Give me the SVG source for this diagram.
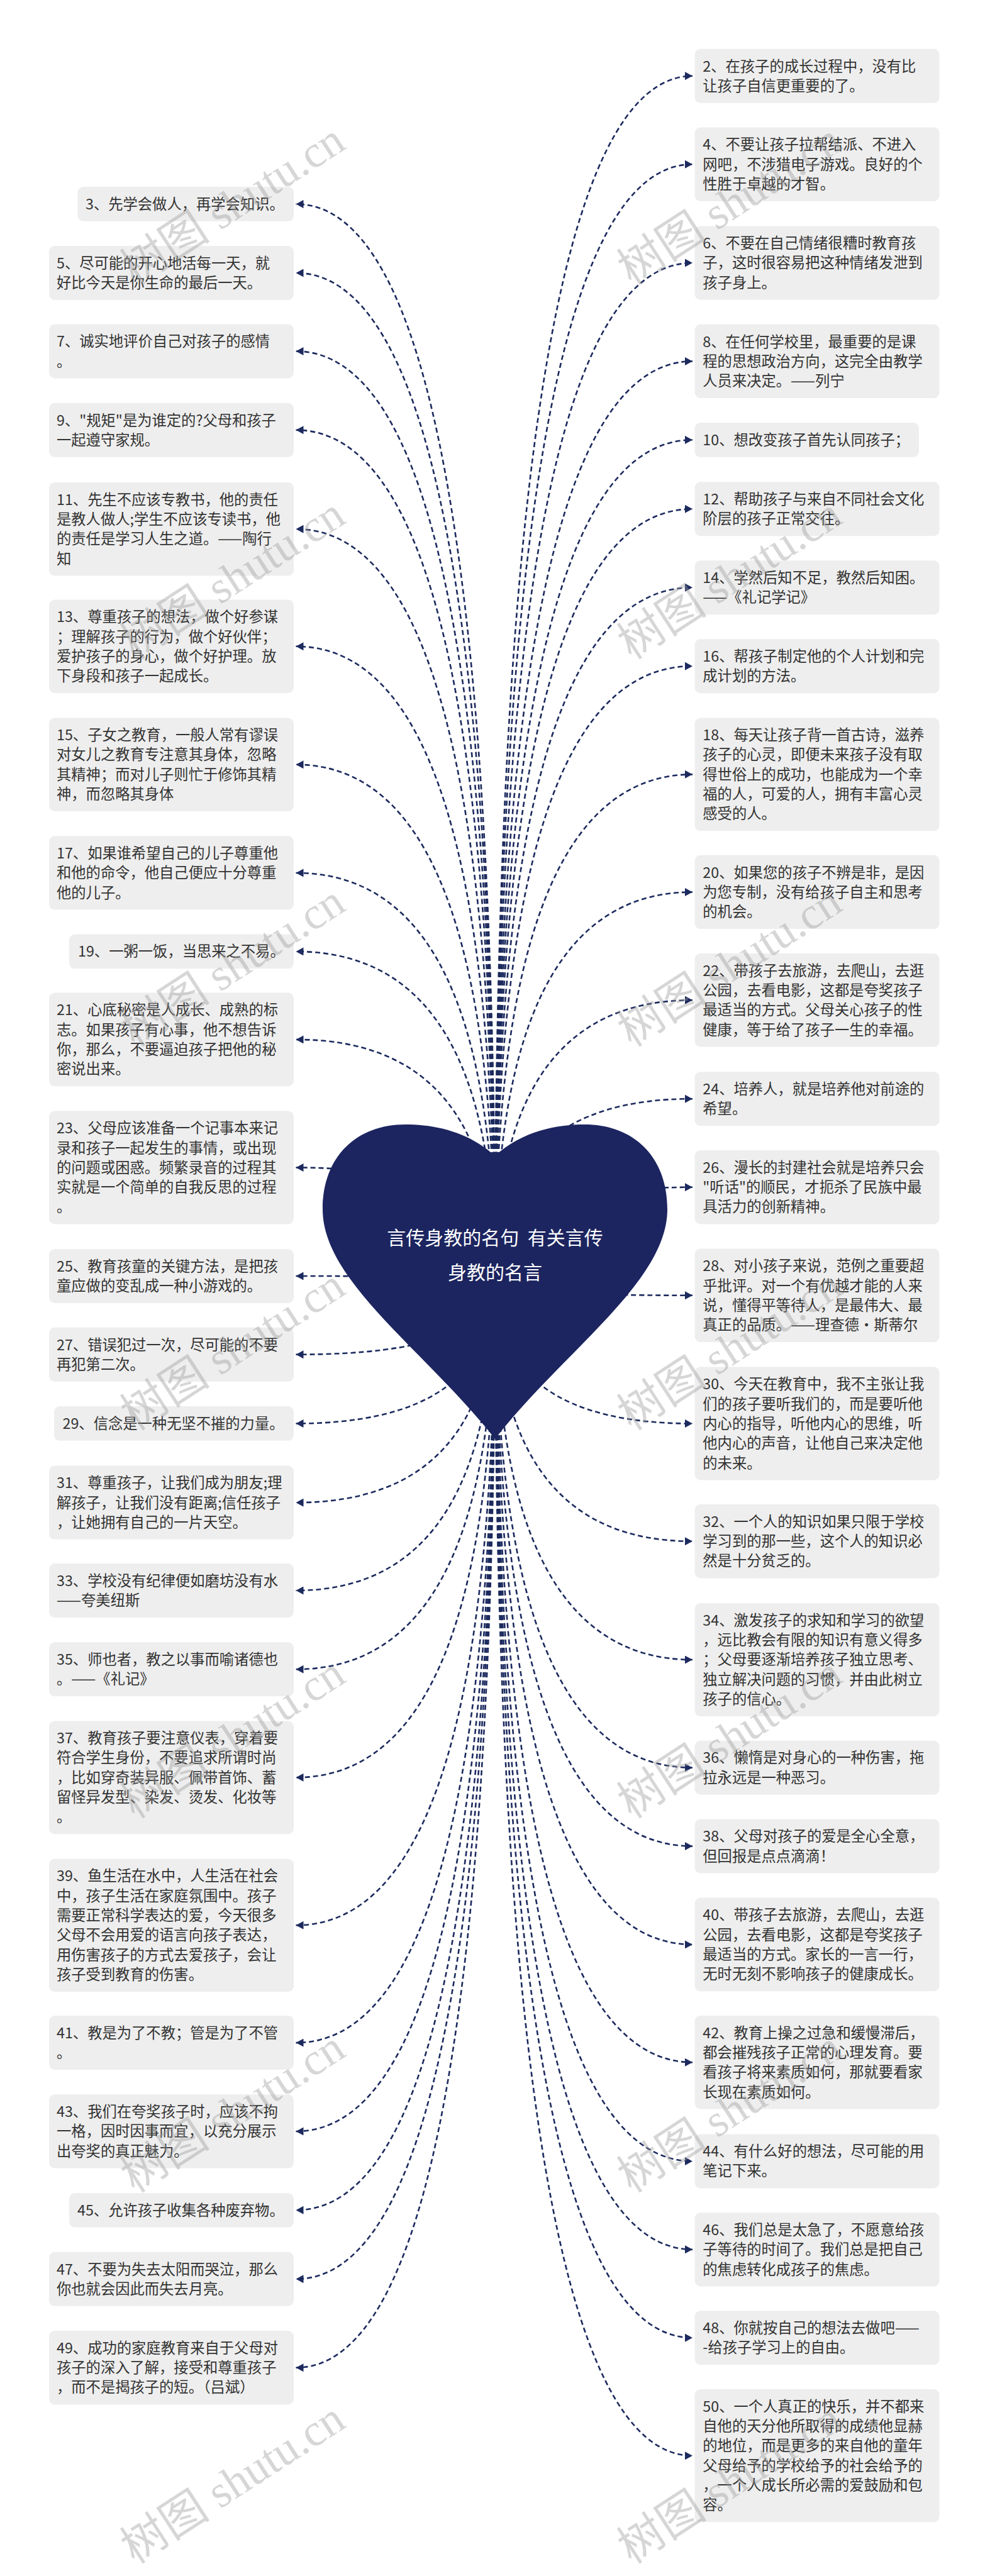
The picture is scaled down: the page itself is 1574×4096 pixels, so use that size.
<svg xmlns="http://www.w3.org/2000/svg" width="1574" height="4096" viewBox="0 0 1574 4096">
<style>
.box{fill:#eeeeee}
.t{font-family:"Noto Sans CJK SC","Liberation Sans",sans-serif;font-size:23.3px;fill:#333333}
.c{fill:none;stroke:#1c2a5e;stroke-width:2.6;stroke-dasharray:8 5;marker-end:url(#ah)}
.wm{font-family:"Liberation Serif","Noto Sans CJK SC",serif;font-size:72px;fill:#9a9a9a;opacity:.4}
.rt{font-family:"Noto Sans CJK SC","Liberation Sans",sans-serif;font-size:30px;fill:#ffffff}
</style>
<defs>
<marker id="ah" markerUnits="userSpaceOnUse" markerWidth="13" markerHeight="13" refX="12" refY="6.5" orient="auto">
<path d="M0,0 L12,6.5 L0,13 z" fill="#1c2a5e"/>
</marker>
</defs>
<rect width="1574" height="4096" fill="#ffffff"/>
<g id="connectors">
<path class="c" d="M787 2035 Q787 324.45 470.5 324.45"/>
<path class="c" d="M787 2035 Q787 434 470.5 434"/>
<path class="c" d="M787 2035 Q787 558.5 470.5 558.5"/>
<path class="c" d="M787 2035 Q787 683.8 470.5 683.8"/>
<path class="c" d="M787 2035 Q787 841.2 470.5 841.2"/>
<path class="c" d="M787 2035 Q787 1027.8 470.5 1027.8"/>
<path class="c" d="M787 2035 Q787 1215.7 470.5 1215.7"/>
<path class="c" d="M787 2035 Q787 1387.95 470.5 1387.95"/>
<path class="c" d="M787 2035 Q787 1512.95 470.5 1512.95"/>
<path class="c" d="M787 2035 Q787 1652.9 470.5 1652.9"/>
<path class="c" d="M787 2035 Q787 1856.45 470.5 1856.45"/>
<path class="c" d="M787 2035 Q787 2029 470.5 2029"/>
<path class="c" d="M787 2035 Q787 2153.8 470.5 2153.8"/>
<path class="c" d="M787 2035 Q787 2263.45 470.5 2263.45"/>
<path class="c" d="M787 2035 Q787 2389.15 470.5 2389.15"/>
<path class="c" d="M787 2035 Q787 2529 470.5 2529"/>
<path class="c" d="M787 2035 Q787 2654.3 470.5 2654.3"/>
<path class="c" d="M787 2035 Q787 2826.35 470.5 2826.35"/>
<path class="c" d="M787 2035 Q787 3061.3 470.5 3061.3"/>
<path class="c" d="M787 2035 Q787 3248.1 470.5 3248.1"/>
<path class="c" d="M787 2035 Q787 3388.95 470.5 3388.95"/>
<path class="c" d="M787 2035 Q787 3514.25 470.5 3514.25"/>
<path class="c" d="M787 2035 Q787 3623.8 470.5 3623.8"/>
<path class="c" d="M787 2035 Q787 3764.75 470.5 3764.75"/>
<path class="c" d="M787 2035 Q787 120.8 1101 120.8"/>
<path class="c" d="M787 2035 Q787 261.25 1101 261.25"/>
<path class="c" d="M787 2035 Q787 418.05 1101 418.05"/>
<path class="c" d="M787 2035 Q787 574.45 1101 574.45"/>
<path class="c" d="M787 2035 Q787 699.45 1101 699.45"/>
<path class="c" d="M787 2035 Q787 809.3 1101 809.3"/>
<path class="c" d="M787 2035 Q787 934.2 1101 934.2"/>
<path class="c" d="M787 2035 Q787 1059.2 1101 1059.2"/>
<path class="c" d="M787 2035 Q787 1231.35 1101 1231.35"/>
<path class="c" d="M787 2035 Q787 1418.45 1101 1418.45"/>
<path class="c" d="M787 2035 Q787 1590.3 1101 1590.3"/>
<path class="c" d="M787 2035 Q787 1747.2 1101 1747.2"/>
<path class="c" d="M787 2035 Q787 1887.75 1101 1887.75"/>
<path class="c" d="M787 2035 Q787 2059.8 1101 2059.8"/>
<path class="c" d="M787 2035 Q787 2263.55 1101 2263.55"/>
<path class="c" d="M787 2035 Q787 2450.75 1101 2450.75"/>
<path class="c" d="M787 2035 Q787 2639.05 1101 2639.05"/>
<path class="c" d="M787 2035 Q787 2810.7 1101 2810.7"/>
<path class="c" d="M787 2035 Q787 2935.6 1101 2935.6"/>
<path class="c" d="M787 2035 Q787 3091.9 1101 3091.9"/>
<path class="c" d="M787 2035 Q787 3279.2 1101 3279.2"/>
<path class="c" d="M787 2035 Q787 3436.4 1101 3436.4"/>
<path class="c" d="M787 2035 Q787 3576.85 1101 3576.85"/>
<path class="c" d="M787 2035 Q787 3717.2 1101 3717.2"/>
<path class="c" d="M787 2035 Q787 3904.7 1101 3904.7"/>
</g>
<g id="root">
<path d="M787 1838 C743.2 1798 688.4 1788 644.5 1788 C567.8 1788 513 1838 513 1923 C513 2038 677.4 2148 787 2288 C896.6 2148 1061 2038 1061 1923 C1061 1838 1006.2 1788 929.5 1788 C885.6 1788 830.8 1798 787 1838 Z" fill="#1c2560"/>
<text class="rt" text-anchor="middle"><tspan x="787" y="1979">言传身教的名句&#160;&#160;有关言传</tspan><tspan x="787" y="2034">身教的名言</tspan></text>
</g>
<g id="n3"><rect class="box" x="123.5" y="297.1" width="343.5" height="54.7" rx="9"/><text class="t"><tspan x="136" y="332.9">3、先学会做人，再学会知识。</tspan></text></g>
<g id="n5"><rect class="box" x="78" y="391" width="389" height="86" rx="9"/><text class="t"><tspan x="90" y="426.75">5、尽可能的开心地活每一天，就</tspan><tspan x="90" y="458.05">好比今天是你生命的最后一天。</tspan></text></g>
<g id="n7"><rect class="box" x="78" y="515.5" width="389" height="86" rx="9"/><text class="t"><tspan x="90" y="551.25">7、诚实地评价自己对孩子的感情</tspan><tspan x="90" y="582.55">。</tspan></text></g>
<g id="n9"><rect class="box" x="78" y="640.8" width="389" height="86" rx="9"/><text class="t"><tspan x="90" y="676.55">9、"规矩"是为谁定的?父母和孩子</tspan><tspan x="90" y="707.85">一起遵守家规。</tspan></text></g>
<g id="n11"><rect class="box" x="78" y="766.9" width="389" height="148.6" rx="9"/><text class="t"><tspan x="90" y="802.65">11、先生不应该专教书，他的责任</tspan><tspan x="90" y="833.95">是教人做人;学生不应该专读书，他</tspan><tspan x="90" y="865.25">的责任是学习人生之道。——陶行</tspan><tspan x="90" y="896.55">知</tspan></text></g>
<g id="n13"><rect class="box" x="78" y="953.5" width="389" height="148.6" rx="9"/><text class="t"><tspan x="90" y="989.25">13、尊重孩子的想法，做个好参谋</tspan><tspan x="90" y="1020.55">；理解孩子的行为，做个好伙伴；</tspan><tspan x="90" y="1051.85">爱护孩子的身心，做个好护理。放</tspan><tspan x="90" y="1083.15">下身段和孩子一起成长。</tspan></text></g>
<g id="n15"><rect class="box" x="78" y="1141.4" width="389" height="148.6" rx="9"/><text class="t"><tspan x="90" y="1177.15">15、子女之教育，一般人常有谬误</tspan><tspan x="90" y="1208.45">对女儿之教育专注意其身体，忽略</tspan><tspan x="90" y="1239.75">其精神；而对儿子则忙于修饰其精</tspan><tspan x="90" y="1271.05">神，而忽略其身体</tspan></text></g>
<g id="n17"><rect class="box" x="78" y="1329.3" width="389" height="117.3" rx="9"/><text class="t"><tspan x="90" y="1365.05">17、如果谁希望自己的儿子尊重他</tspan><tspan x="90" y="1396.35">和他的命令，他自己便应十分尊重</tspan><tspan x="90" y="1427.65">他的儿子。</tspan></text></g>
<g id="n19"><rect class="box" x="110" y="1485.6" width="357" height="54.7" rx="9"/><text class="t"><tspan x="124" y="1521.35">19、一粥一饭，当思来之不易。</tspan></text></g>
<g id="n21"><rect class="box" x="78" y="1578.6" width="389" height="148.6" rx="9"/><text class="t"><tspan x="90" y="1614.35">21、心底秘密是人成长、成熟的标</tspan><tspan x="90" y="1645.65">志。如果孩子有心事，他不想告诉</tspan><tspan x="90" y="1676.95">你，那么，不要逼迫孩子把他的秘</tspan><tspan x="90" y="1708.25">密说出来。</tspan></text></g>
<g id="n23"><rect class="box" x="78" y="1766.5" width="389" height="179.9" rx="9"/><text class="t"><tspan x="90" y="1802.25">23、父母应该准备一个记事本来记</tspan><tspan x="90" y="1833.55">录和孩子一起发生的事情，或出现</tspan><tspan x="90" y="1864.85">的问题或困惑。频繁录音的过程其</tspan><tspan x="90" y="1896.15">实就是一个简单的自我反思的过程</tspan><tspan x="90" y="1927.45">。</tspan></text></g>
<g id="n25"><rect class="box" x="78" y="1986" width="389" height="86" rx="9"/><text class="t"><tspan x="90" y="2021.75">25、教育孩童的关键方法，是把孩</tspan><tspan x="90" y="2053.05">童应做的变乱成一种小游戏的。</tspan></text></g>
<g id="n27"><rect class="box" x="78" y="2110.8" width="389" height="86" rx="9"/><text class="t"><tspan x="90" y="2146.55">27、错误犯过一次，尽可能的不要</tspan><tspan x="90" y="2177.85">再犯第二次。</tspan></text></g>
<g id="n29"><rect class="box" x="86" y="2236.1" width="381" height="54.7" rx="9"/><text class="t"><tspan x="99.5" y="2271.85">29、信念是一种无坚不摧的力量。</tspan></text></g>
<g id="n31"><rect class="box" x="78" y="2330.5" width="389" height="117.3" rx="9"/><text class="t"><tspan x="90" y="2366.25">31、尊重孩子，让我们成为朋友;理</tspan><tspan x="90" y="2397.55">解孩子，让我们没有距离;信任孩子</tspan><tspan x="90" y="2428.85">，让她拥有自己的一片天空。</tspan></text></g>
<g id="n33"><rect class="box" x="78" y="2486" width="389" height="86" rx="9"/><text class="t"><tspan x="90" y="2521.75">33、学校没有纪律便如磨坊没有水</tspan><tspan x="90" y="2553.05">——夸美纽斯</tspan></text></g>
<g id="n35"><rect class="box" x="78" y="2611.3" width="389" height="86" rx="9"/><text class="t"><tspan x="90" y="2647.05">35、师也者，教之以事而喻诸德也</tspan><tspan x="90" y="2678.35">。——《礼记》</tspan></text></g>
<g id="n37"><rect class="box" x="78" y="2736.4" width="389" height="179.9" rx="9"/><text class="t"><tspan x="90" y="2772.15">37、教育孩子要注意仪表，穿着要</tspan><tspan x="90" y="2803.45">符合学生身份，不要追求所谓时尚</tspan><tspan x="90" y="2834.75">，比如穿奇装异服、佩带首饰、蓄</tspan><tspan x="90" y="2866.05">留怪异发型、染发、烫发、化妆等</tspan><tspan x="90" y="2897.35">。</tspan></text></g>
<g id="n39"><rect class="box" x="78" y="2955.7" width="389" height="211.2" rx="9"/><text class="t"><tspan x="90" y="2991.45">39、鱼生活在水中，人生活在社会</tspan><tspan x="90" y="3022.75">中，孩子生活在家庭氛围中。孩子</tspan><tspan x="90" y="3054.05">需要正常科学表达的爱，今天很多</tspan><tspan x="90" y="3085.35">父母不会用爱的语言向孩子表达，</tspan><tspan x="90" y="3116.65">用伤害孩子的方式去爱孩子，会让</tspan><tspan x="90" y="3147.95">孩子受到教育的伤害。</tspan></text></g>
<g id="n41"><rect class="box" x="78" y="3205.1" width="389" height="86" rx="9"/><text class="t"><tspan x="90" y="3240.85">41、教是为了不教；管是为了不管</tspan><tspan x="90" y="3272.15">。</tspan></text></g>
<g id="n43"><rect class="box" x="78" y="3330.3" width="389" height="117.3" rx="9"/><text class="t"><tspan x="90" y="3366.05">43、我们在夸奖孩子时，应该不拘</tspan><tspan x="90" y="3397.35">一格，因时因事而宜，以充分展示</tspan><tspan x="90" y="3428.65">出夸奖的真正魅力。</tspan></text></g>
<g id="n45"><rect class="box" x="110" y="3486.9" width="357" height="54.7" rx="9"/><text class="t"><tspan x="123" y="3522.65">45、允许孩子收集各种废弃物。</tspan></text></g>
<g id="n47"><rect class="box" x="78" y="3580.8" width="389" height="86" rx="9"/><text class="t"><tspan x="90" y="3616.55">47、不要为失去太阳而哭泣，那么</tspan><tspan x="90" y="3647.85">你也就会因此而失去月亮。</tspan></text></g>
<g id="n49"><rect class="box" x="78" y="3706.1" width="389" height="117.3" rx="9"/><text class="t"><tspan x="90" y="3741.85">49、成功的家庭教育来自于父母对</tspan><tspan x="90" y="3773.15">孩子的深入了解，接受和尊重孩子</tspan><tspan x="90" y="3804.45">，而不是揭孩子的短。（吕斌）</tspan></text></g>
<g id="n2"><rect class="box" x="1104.6" y="77.8" width="389" height="86" rx="9"/><text class="t"><tspan x="1117.3" y="113.55">2、在孩子的成长过程中，没有比</tspan><tspan x="1117.3" y="144.85">让孩子自信更重要的了。</tspan></text></g>
<g id="n4"><rect class="box" x="1104.6" y="202.6" width="389" height="117.3" rx="9"/><text class="t"><tspan x="1117.3" y="238.35">4、不要让孩子拉帮结派、不进入</tspan><tspan x="1117.3" y="269.65">网吧，不涉猎电子游戏。良好的个</tspan><tspan x="1117.3" y="300.95">性胜于卓越的才智。</tspan></text></g>
<g id="n6"><rect class="box" x="1104.6" y="359.4" width="389" height="117.3" rx="9"/><text class="t"><tspan x="1117.3" y="395.15">6、不要在自己情绪很糟时教育孩</tspan><tspan x="1117.3" y="426.45">子，这时很容易把这种情绪发泄到</tspan><tspan x="1117.3" y="457.75">孩子身上。</tspan></text></g>
<g id="n8"><rect class="box" x="1104.6" y="515.8" width="389" height="117.3" rx="9"/><text class="t"><tspan x="1117.3" y="551.55">8、在任何学校里，最重要的是课</tspan><tspan x="1117.3" y="582.85">程的思想政治方向，这完全由教学</tspan><tspan x="1117.3" y="614.15">人员来决定。——列宁</tspan></text></g>
<g id="n10"><rect class="box" x="1104.6" y="672.1" width="356.4" height="54.7" rx="9"/><text class="t"><tspan x="1117.3" y="707.85">10、想改变孩子首先认同孩子；</tspan></text></g>
<g id="n12"><rect class="box" x="1104.6" y="766.3" width="389" height="86" rx="9"/><text class="t"><tspan x="1117.3" y="802.05">12、帮助孩子与来自不同社会文化</tspan><tspan x="1117.3" y="833.35">阶层的孩子正常交往。</tspan></text></g>
<g id="n14"><rect class="box" x="1104.6" y="891.2" width="389" height="86" rx="9"/><text class="t"><tspan x="1117.3" y="926.95">14、学然后知不足，教然后知困。</tspan><tspan x="1117.3" y="958.25">——《礼记学记》</tspan></text></g>
<g id="n16"><rect class="box" x="1104.6" y="1016.2" width="389" height="86" rx="9"/><text class="t"><tspan x="1117.3" y="1051.95">16、帮孩子制定他的个人计划和完</tspan><tspan x="1117.3" y="1083.25">成计划的方法。</tspan></text></g>
<g id="n18"><rect class="box" x="1104.6" y="1141.4" width="389" height="179.9" rx="9"/><text class="t"><tspan x="1117.3" y="1177.15">18、每天让孩子背一首古诗，滋养</tspan><tspan x="1117.3" y="1208.45">孩子的心灵，即便未来孩子没有取</tspan><tspan x="1117.3" y="1239.75">得世俗上的成功，也能成为一个幸</tspan><tspan x="1117.3" y="1271.05">福的人，可爱的人，拥有丰富心灵</tspan><tspan x="1117.3" y="1302.35">感受的人。</tspan></text></g>
<g id="n20"><rect class="box" x="1104.6" y="1359.8" width="389" height="117.3" rx="9"/><text class="t"><tspan x="1117.3" y="1395.55">20、如果您的孩子不辨是非，是因</tspan><tspan x="1117.3" y="1426.85">为您专制，没有给孩子自主和思考</tspan><tspan x="1117.3" y="1458.15">的机会。</tspan></text></g>
<g id="n22"><rect class="box" x="1104.6" y="1516" width="389" height="148.6" rx="9"/><text class="t"><tspan x="1117.3" y="1551.75">22、带孩子去旅游，去爬山，去逛</tspan><tspan x="1117.3" y="1583.05">公园，去看电影，这都是夸奖孩子</tspan><tspan x="1117.3" y="1614.35">最适当的方式。父母关心孩子的性</tspan><tspan x="1117.3" y="1645.65">健康，等于给了孩子一生的幸福。</tspan></text></g>
<g id="n24"><rect class="box" x="1104.6" y="1704.2" width="389" height="86" rx="9"/><text class="t"><tspan x="1117.3" y="1739.95">24、培养人，就是培养他对前途的</tspan><tspan x="1117.3" y="1771.25">希望。</tspan></text></g>
<g id="n26"><rect class="box" x="1104.6" y="1829.1" width="389" height="117.3" rx="9"/><text class="t"><tspan x="1117.3" y="1864.85">26、漫长的封建社会就是培养只会</tspan><tspan x="1117.3" y="1896.15">"听话"的顺民，才扼杀了民族中最</tspan><tspan x="1117.3" y="1927.45">具活力的创新精神。</tspan></text></g>
<g id="n28"><rect class="box" x="1104.6" y="1985.5" width="389" height="148.6" rx="9"/><text class="t"><tspan x="1117.3" y="2021.25">28、对小孩子来说，范例之重要超</tspan><tspan x="1117.3" y="2052.55">乎批评。对一个有优越才能的人来</tspan><tspan x="1117.3" y="2083.85">说，懂得平等待人，是最伟大、最</tspan><tspan x="1117.3" y="2115.15">真正的品质。——理查德·斯蒂尔</tspan></text></g>
<g id="n30"><rect class="box" x="1104.6" y="2173.6" width="389" height="179.9" rx="9"/><text class="t"><tspan x="1117.3" y="2209.35">30、今天在教育中，我不主张让我</tspan><tspan x="1117.3" y="2240.65">们的孩子要听我们的，而是要听他</tspan><tspan x="1117.3" y="2271.95">内心的指导，听他内心的思维，听</tspan><tspan x="1117.3" y="2303.25">他内心的声音，让他自己来决定他</tspan><tspan x="1117.3" y="2334.55">的未来。</tspan></text></g>
<g id="n32"><rect class="box" x="1104.6" y="2392.1" width="389" height="117.3" rx="9"/><text class="t"><tspan x="1117.3" y="2427.85">32、一个人的知识如果只限于学校</tspan><tspan x="1117.3" y="2459.15">学习到的那一些，这个人的知识必</tspan><tspan x="1117.3" y="2490.45">然是十分贫乏的。</tspan></text></g>
<g id="n34"><rect class="box" x="1104.6" y="2549.1" width="389" height="179.9" rx="9"/><text class="t"><tspan x="1117.3" y="2584.85">34、激发孩子的求知和学习的欲望</tspan><tspan x="1117.3" y="2616.15">，远比教会有限的知识有意义得多</tspan><tspan x="1117.3" y="2647.45">；父母要逐渐培养孩子独立思考、</tspan><tspan x="1117.3" y="2678.75">独立解决问题的习惯，并由此树立</tspan><tspan x="1117.3" y="2710.05">孩子的信心。</tspan></text></g>
<g id="n36"><rect class="box" x="1104.6" y="2767.7" width="389" height="86" rx="9"/><text class="t"><tspan x="1117.3" y="2803.45">36、懒惰是对身心的一种伤害，拖</tspan><tspan x="1117.3" y="2834.75">拉永远是一种恶习。</tspan></text></g>
<g id="n38"><rect class="box" x="1104.6" y="2892.6" width="389" height="86" rx="9"/><text class="t"><tspan x="1117.3" y="2928.35">38、父母对孩子的爱是全心全意，</tspan><tspan x="1117.3" y="2959.65">但回报是点点滴滴！</tspan></text></g>
<g id="n40"><rect class="box" x="1104.6" y="3017.6" width="389" height="148.6" rx="9"/><text class="t"><tspan x="1117.3" y="3053.35">40、带孩子去旅游，去爬山，去逛</tspan><tspan x="1117.3" y="3084.65">公园，去看电影，这都是夸奖孩子</tspan><tspan x="1117.3" y="3115.95">最适当的方式。家长的一言一行，</tspan><tspan x="1117.3" y="3147.25">无时无刻不影响孩子的健康成长。</tspan></text></g>
<g id="n42"><rect class="box" x="1104.6" y="3204.9" width="389" height="148.6" rx="9"/><text class="t"><tspan x="1117.3" y="3240.65">42、教育上操之过急和缓慢滞后，</tspan><tspan x="1117.3" y="3271.95">都会摧残孩子正常的心理发育。要</tspan><tspan x="1117.3" y="3303.25">看孩子将来素质如何，那就要看家</tspan><tspan x="1117.3" y="3334.55">长现在素质如何。</tspan></text></g>
<g id="n44"><rect class="box" x="1104.6" y="3393.4" width="389" height="86" rx="9"/><text class="t"><tspan x="1117.3" y="3429.15">44、有什么好的想法，尽可能的用</tspan><tspan x="1117.3" y="3460.45">笔记下来。</tspan></text></g>
<g id="n46"><rect class="box" x="1104.6" y="3518.2" width="389" height="117.3" rx="9"/><text class="t"><tspan x="1117.3" y="3553.95">46、我们总是太急了，不愿意给孩</tspan><tspan x="1117.3" y="3585.25">子等待的时间了。我们总是把自己</tspan><tspan x="1117.3" y="3616.55">的焦虑转化成孩子的焦虑。</tspan></text></g>
<g id="n48"><rect class="box" x="1104.6" y="3674.2" width="389" height="86" rx="9"/><text class="t"><tspan x="1117.3" y="3709.95">48、你就按自己的想法去做吧——</tspan><tspan x="1117.3" y="3741.25">-给孩子学习上的自由。</tspan></text></g>
<g id="n50"><rect class="box" x="1104.6" y="3799.1" width="389" height="211.2" rx="9"/><text class="t"><tspan x="1117.3" y="3834.85">50、一个人真正的快乐，并不都来</tspan><tspan x="1117.3" y="3866.15">自他的天分他所取得的成绩他显赫</tspan><tspan x="1117.3" y="3897.45">的地位，而是更多的来自他的童年</tspan><tspan x="1117.3" y="3928.75">父母给予的学校给予的社会给予的</tspan><tspan x="1117.3" y="3960.05">，一个人成长所必需的爱鼓励和包</tspan><tspan x="1117.3" y="3991.35">容。</tspan></text></g>
<g id="watermarks">
<text class="wm" transform="translate(214 455) rotate(-33)">树图 shutu.cn</text>
<text class="wm" transform="translate(214 1050) rotate(-33)">树图 shutu.cn</text>
<text class="wm" transform="translate(214 1666) rotate(-33)">树图 shutu.cn</text>
<text class="wm" transform="translate(214 2276) rotate(-33)">树图 shutu.cn</text>
<text class="wm" transform="translate(214 2893) rotate(-33)">树图 shutu.cn</text>
<text class="wm" transform="translate(214 3488) rotate(-33)">树图 shutu.cn</text>
<text class="wm" transform="translate(214 4078) rotate(-33)">树图 shutu.cn</text>
<text class="wm" transform="translate(1004 455) rotate(-33)">树图 shutu.cn</text>
<text class="wm" transform="translate(1004 1050) rotate(-33)">树图 shutu.cn</text>
<text class="wm" transform="translate(1004 1666) rotate(-33)">树图 shutu.cn</text>
<text class="wm" transform="translate(1004 2276) rotate(-33)">树图 shutu.cn</text>
<text class="wm" transform="translate(1004 2893) rotate(-33)">树图 shutu.cn</text>
<text class="wm" transform="translate(1004 3488) rotate(-33)">树图 shutu.cn</text>
<text class="wm" transform="translate(1004 4078) rotate(-33)">树图 shutu.cn</text>
</g>
</svg>
